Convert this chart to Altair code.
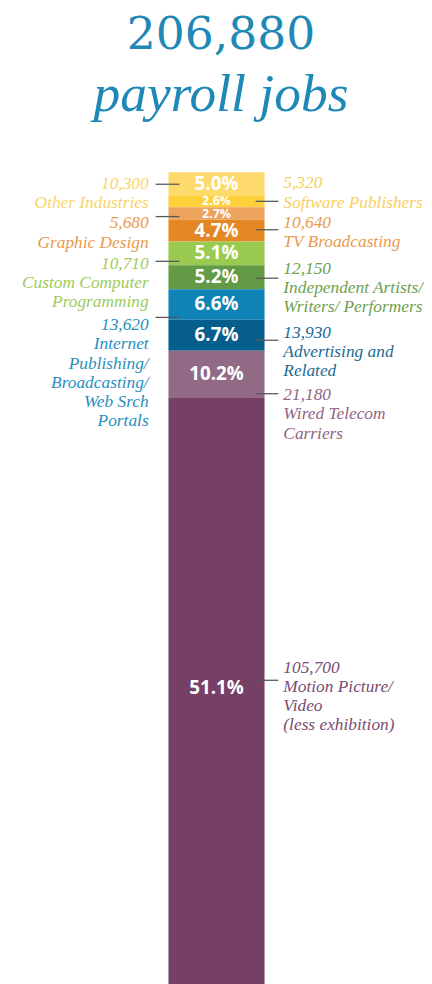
import altair as alt
import pandas as pd

# ---------------- data ----------------
TOTAL_JOBS = "206,880"
TITLE_SUB = "payroll jobs"

industries = [
    "Other Industries",
    "Software Publishers",
    "Graphic Design",
    "TV Broadcasting",
    "Custom Computer Programming",
    "Independent Artists/ Writers/ Performers",
    "Internet Publishing/ Broadcasting/ Web Srch Portals",
    "Advertising and Related",
    "Wired Telecom Carriers",
    "Motion Picture/ Video (less exhibition)",
]
jobs = [10300, 5320, 5680, 10640, 10710, 12150, 13620, 13930, 21180, 105700]
pct = [5.0, 2.6, 2.7, 4.7, 5.1, 5.2, 6.6, 6.7, 10.2, 51.1]
label_lines = [
    ["Other Industries"],
    ["Software Publishers"],
    ["Graphic Design"],
    ["TV Broadcasting"],
    ["Custom Computer", "Programming"],
    ["Independent Artists/", "Writers/ Performers"],
    ["Internet", "Publishing/", "Broadcasting/", "Web Srch", "Portals"],
    ["Advertising and", "Related"],
    ["Wired Telecom", "Carriers"],
    ["Motion Picture/", "Video", "(less exhibition)"],
]
side = ["left", "right", "left", "right", "left", "right", "left", "right", "right", "right"]

# ---------------- styles ----------------
seg_colors = ["#FED96C", "#FDD03C", "#EBA35E", "#E58824", "#9ACA50",
              "#629A45", "#0E84B6", "#055E8C", "#916B86", "#763F65"]
text_colors = ["#F9D46B", "#F8CF5C", "#EA9A4E", "#EA9A4E", "#9DCB5B",
               "#6E9F50", "#2A8FBE", "#1D6A93", "#8F6683", "#7B4C71"]
TITLE_COLOR = "#1E88B6"

# ---------------- layout ----------------
PLOT_W, PLOT_H = 416, 830
PX = 4.672                         # pixels per percent unit
Y_MAX = PLOT_H / PX                # scale domain end; last segment fills to it
leader_off_px = [0.5, 0, 3, -1, 8, 1, 13, 5, 19.5, -7.5]
text_off_px = [0, -18, 7, -6.6, 3, -9, 8, -7, 1.7, -12.3]

rows = []
acc = 0.0
for i, p in enumerate(pct):
    start = acc
    acc += p
    end = acc if i < len(pct) - 1 else Y_MAX
    mid = (start + end) / 2
    if i == len(pct) - 1:
        mid = start + (984 - 171 - start * PX) / 2 / PX   # centre of the visible part
    leader = mid + leader_off_px[i] / PX
    rows.append({
        "grp": "all",
        "industry": industries[i],
        "pct": p,
        "pct_label": f"{p:.1f}%",
        "start": start,
        "end": end,
        "mid": mid,
        "leader": leader,
        "text_y": leader + text_off_px[i] / PX,
        "label": f"{jobs[i]:,}\n" + "\n".join(label_lines[i]),
        "side": side[i],
    })
df = pd.DataFrame(rows)

yscale = alt.Scale(domain=[0, Y_MAX], reverse=True, nice=False, zero=False)
base = alt.Chart(df)

bars = base.mark_bar(width=97, xOffset=2.5).encode(
    x=alt.X("grp:N", axis=None),
    y=alt.Y("start:Q", scale=yscale, axis=None),
    y2="end:Q",
    color=alt.Color("industry:N", scale=alt.Scale(domain=industries, range=seg_colors), legend=None),
)

pct_text = base.mark_text(font="Open Sans", fontWeight="bold", color="white",
                          baseline="middle", align="center", xOffset=2.5).encode(
    x=alt.X("grp:N", axis=None),
    y=alt.Y("mid:Q", scale=yscale, axis=None),
    text="pct_label:N",
    size=alt.condition("datum.pct < 3", alt.value(12.5), alt.value(19)),
)

lead_left = base.mark_rule(color="#58595B", strokeWidth=1.3).encode(
    x=alt.value(149), x2=alt.value(173),
    y=alt.Y("leader:Q", scale=yscale, axis=None),
).transform_filter(alt.datum.side == "left")

lead_right = base.mark_rule(color="#58595B", strokeWidth=1.3).encode(
    x=alt.value(250), x2=alt.value(273),
    y=alt.Y("leader:Q", scale=yscale, axis=None),
).transform_filter(alt.datum.side == "right")

text_color = alt.Color("industry:N", scale=alt.Scale(domain=industries, range=text_colors), legend=None)
lbl_kw = dict(font="Liberation Serif", fontStyle="italic", fontSize=17.5,
              lineBreak="\n", lineHeight=19.3, baseline="middle")

lbl_left = base.mark_text(align="right", **lbl_kw).encode(
    x=alt.value(142),
    y=alt.Y("text_y:Q", scale=yscale, axis=None),
    text="label:N",
    color=text_color,
).transform_filter(alt.datum.side == "left")

lbl_right = base.mark_text(align="left", **lbl_kw).encode(
    x=alt.value(278),
    y=alt.Y("text_y:Q", scale=yscale, axis=None),
    text="label:N",
    color=text_color,
).transform_filter(alt.datum.side == "right")

bar_layer = alt.layer(bars, pct_text)
text_layer = alt.layer(lead_left, lead_right, lbl_left, lbl_right)

chart = alt.layer(bar_layer, text_layer).resolve_scale(color="independent").properties(
    width=PLOT_W,
    height=PLOT_H,
    padding=0,
    title=alt.TitleParams(
        text=TOTAL_JOBS,
        subtitle=TITLE_SUB,
        font="DejaVu Serif",
        fontSize=46,
        fontWeight="normal",
        color=TITLE_COLOR,
        subtitleFont="Liberation Serif",
        subtitleFontSize=54,
        subtitleFontStyle="italic",
        subtitleColor=TITLE_COLOR,
        subtitlePadding=9,
        anchor="middle",
        offset=50,
        dx=7,
    ),
).configure_view(stroke=None)

chart.save("out.html", embed_options={"renderer": "svg", "actions": False})
